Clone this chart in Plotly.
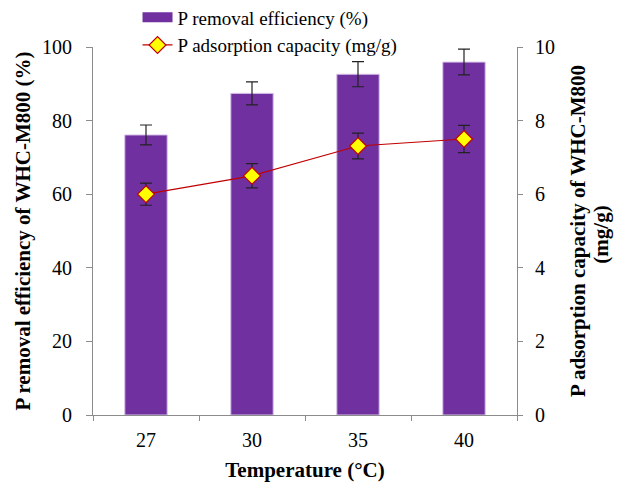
import plotly.graph_objects as go

temps = ["27", "30", "35", "40"]
removal = [76.1, 87.4, 92.6, 95.9]
removal_err = [2.7, 3.1, 3.4, 3.5]
capacity = [6.0, 6.5, 7.31, 7.5]
capacity_err = [0.3, 0.33, 0.35, 0.37]

font = "Liberation Serif, Times New Roman, serif"
axis_col = "#8c8c8c"
tickf = dict(family=font, size=20, color="black")
titlef = dict(family=font, size=21, color="black")

fig = go.Figure()
fig.add_trace(go.Bar(
    x=temps, y=removal, name="P removal efficiency (%)", showlegend=False,
    marker=dict(color="#7030A0", line=dict(color="#d8c4ea", width=1)),
    width=0.4,
    error_y=dict(type="data", array=removal_err, color="#222222", thickness=1.2, width=6),
))
# legend-only entry to show the wide bar swatch
fig.add_trace(go.Scatter(
    x=[None], y=[None], name="P removal efficiency (%)", mode="lines",
    line=dict(color="#7030A0", width=10), showlegend=True,
))
fig.add_trace(go.Scatter(
    x=temps, y=capacity, name="P adsorption capacity (mg/g)", yaxis="y2",
    mode="lines+markers",
    line=dict(color="#C00000", width=1.2),
    marker=dict(symbol="diamond", size=13, color="#FFFF00", line=dict(color="#C00000", width=1.2)),
    error_y=dict(type="data", array=capacity_err, color="#222222", thickness=1.2, width=6),
))

fig.update_layout(
    width=631, height=484,
    margin=dict(l=93, r=114, t=47, b=69, autoexpand=False),
    paper_bgcolor="white", plot_bgcolor="white",
    font=dict(family=font, size=20, color="black"),
    showlegend=True,
    legend=dict(x=0.105, y=1.132, xanchor="left", yanchor="top",
                bgcolor="rgba(0,0,0,0)", font=dict(size=19, family=font),
                tracegroupgap=0, itemwidth=30, borderwidth=0),
    xaxis=dict(
        type="category", tickson="boundaries", ticks="outside", ticklen=5,
        tickcolor=axis_col, showline=True, linecolor=axis_col, linewidth=1,
        showgrid=False, tickfont=tickf, ticklabelstandoff=7,
        title=dict(text="<b>Temperature (°C)</b>", font=titlef, standoff=12),
    ),
    yaxis=dict(
        range=[0, 100], dtick=20, ticks="outside", ticklen=6, tickcolor=axis_col,
        showline=True, linecolor=axis_col, linewidth=1, showgrid=False, zeroline=False,
        tickfont=tickf, ticklabelstandoff=10,
        title=dict(text="<b>P removal efficiency of WHC-M800 (%)</b>", font=titlef, standoff=5),
    ),
    yaxis2=dict(
        range=[0, 10], dtick=2, overlaying="y", side="right",
        ticks="outside", ticklen=5, tickcolor=axis_col,
        showline=True, linecolor=axis_col, linewidth=1, showgrid=False, zeroline=False,
        tickfont=tickf, ticklabelstandoff=8,
    ),
    annotations=[
        dict(text="<b>P adsorption capacity of WHC-M800</b>", xref="paper", yref="paper",
             x=(578 - 93) / 424, y=0.5, xanchor="center", yanchor="middle",
             textangle=-90, showarrow=False, font=titlef),
        dict(text="<b>(mg/g)</b>", xref="paper", yref="paper",
             x=(601 - 93) / 424, y=0.49, xanchor="center", yanchor="middle",
             textangle=-90, showarrow=False, font=titlef),
    ],
)

fig.write_html("out.html")
